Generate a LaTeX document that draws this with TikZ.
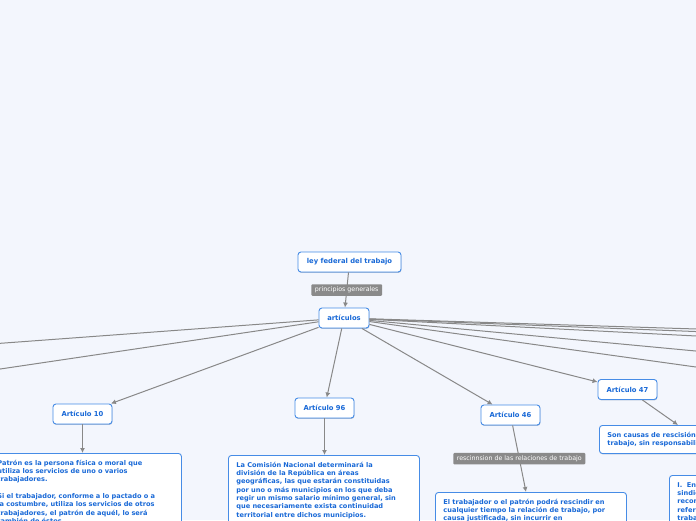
\documentclass[tikz,border=0pt]{standalone}
\usepackage{fontspec}
\setmainfont{DejaVu Sans}
\usetikzlibrary{arrows.meta,calc,shadows}
\definecolor{bg}{RGB}{243,246,253}
\definecolor{nodeblue}{RGB}{70,140,230}
\definecolor{txtblue}{RGB}{25,105,215}
\definecolor{linegray}{RGB}{136,136,136}
\definecolor{lblgray}{RGB}{138,138,138}
\tikzset{
  topic/.style={draw=nodeblue, fill=white, line width=0.9pt, rounded corners=3pt,
    text=txtblue, font=\fontsize{6.8}{8}\selectfont\bfseries, minimum height=20pt,
    inner xsep=0pt, inner ysep=0pt,
    drop shadow={shadow xshift=0.4pt, shadow yshift=-0.9pt, fill=nodeblue!60!black, opacity=0.35}},
  textbox/.style={draw=nodeblue, fill=white, line width=0.9pt, rounded corners=3pt,
    text=txtblue, font=\fontsize{6.6}{8.33}\selectfont\bfseries, align=left,
    anchor=north west, inner xsep=8pt, inner ysep=6.5pt, text width=175pt,
    drop shadow={shadow xshift=0.4pt, shadow yshift=-0.9pt, fill=nodeblue!60!black, opacity=0.35}},
  lbl/.style={fill=lblgray, text=white, font=\fontsize{6.3}{7}\selectfont,
    rounded corners=1pt, inner xsep=3.5pt, inner ysep=0pt, minimum height=11.5pt},
  conn/.style={draw=linegray, line width=1pt, -{Latex[length=5pt,width=5pt]}}
}
\begin{document}
\begin{tikzpicture}[x=1pt,y=-1pt]
\useasboundingbox (0,0) rectangle (696,520);
\fill[bg] (0,0) rectangle (696,520);
\clip (0,0) rectangle (696,520);

% main nodes
\node[topic, minimum width=103pt] (ley) at (349.5,262) {ley federal del trabajo};
\node[topic, minimum width=50pt] (art) at (344,318) {artículos};
\node[topic, minimum width=59pt] (a10) at (82.5,414) {Artículo 10};
\node[topic, minimum width=59pt] (a96) at (324.5,408) {Artículo 96};
\node[topic, minimum width=59pt] (a46) at (510.5,415) {Artículo 46};
\node[topic, minimum width=59pt] (a47) at (627.5,389.5) {Artículo 47};

% text boxes
\node[textbox, text width=176pt] (t10) at (-11,453) {Patrón es la persona física o moral que\\
utiliza los servicios de uno o varios\\
trabajadores.\\[8.33pt]
Si el trabajador, conforme a lo pactado o a\\
la costumbre, utiliza los servicios de otros\\
trabajadores, el patrón de aquél, lo será\\
también de éstos.};

\node[textbox] (t96) at (228,455) {La Comisión Nacional determinará la\\
división de la República en áreas\\
geográficas, las que estarán constituidas\\
por uno o más municipios en los que deba\\
regir un mismo salario mínimo general, sin\\
que necesariamente exista continuidad\\
territorial entre dichos municipios.};

\node[textbox] (t46) at (435,492) {El trabajador o el patrón podrá rescindir en\\
cualquier tiempo la relación de trabajo, por\\
causa justificada, sin incurrir en\\
responsabilidad.};

\node[textbox, text width=176pt] (t47) at (599,425) {Son causas de rescisión de la relación de\\
trabajo, sin responsabilidad para el patrón:};

\node[textbox] (tI) at (669,475) {I.\ \ Engañarlo el trabajador o en su caso, el\\
sindicato que lo hubiese propuesto o\\
recomendado con certificados falsos o\\
referencias en los que se atribuyan al\\
trabajador capacidades, aptitudes o\\
facultades de que carezca.};

% off-picture ends
\coordinate (l1) at (-20,344.8);
\coordinate (l2) at (-20,372);
\coordinate (r1) at (716,329.6);
\coordinate (r2) at (716,332.3);
\coordinate (r3) at (716,337);
\coordinate (r4) at (716,352.9);
\coordinate (r5) at (716,369.8);

% connectors
\draw[conn] (ley) -- node[lbl] {principios generales} (art);
\draw[conn] (art) -- (l1);
\draw[conn] (art) -- (l2);
\draw[conn] (art) -- (a10);
\draw[conn] (art) -- (a96);
\draw[conn] (art) -- (a46);
\draw[conn] (art) -- (a47);
\draw[conn] (art) -- (r1);
\draw[conn] (art) -- (r2);
\draw[conn] (art) -- (r3);
\draw[conn] (art) -- (r4);
\draw[conn] (art) -- (r5);

\draw[conn] (a10) -- (a10 |- t10.north);
\draw[conn] (a96) -- (a96 |- t96.north);
\draw[conn] (a46) -- node[lbl] {rescinnsion de las relaciones de trabajo} ($(t46.north west)+(91,0)$);
\draw[conn] (a47) -- ($(t47.north west)+(79,0)$);
\end{tikzpicture}
\end{document}
